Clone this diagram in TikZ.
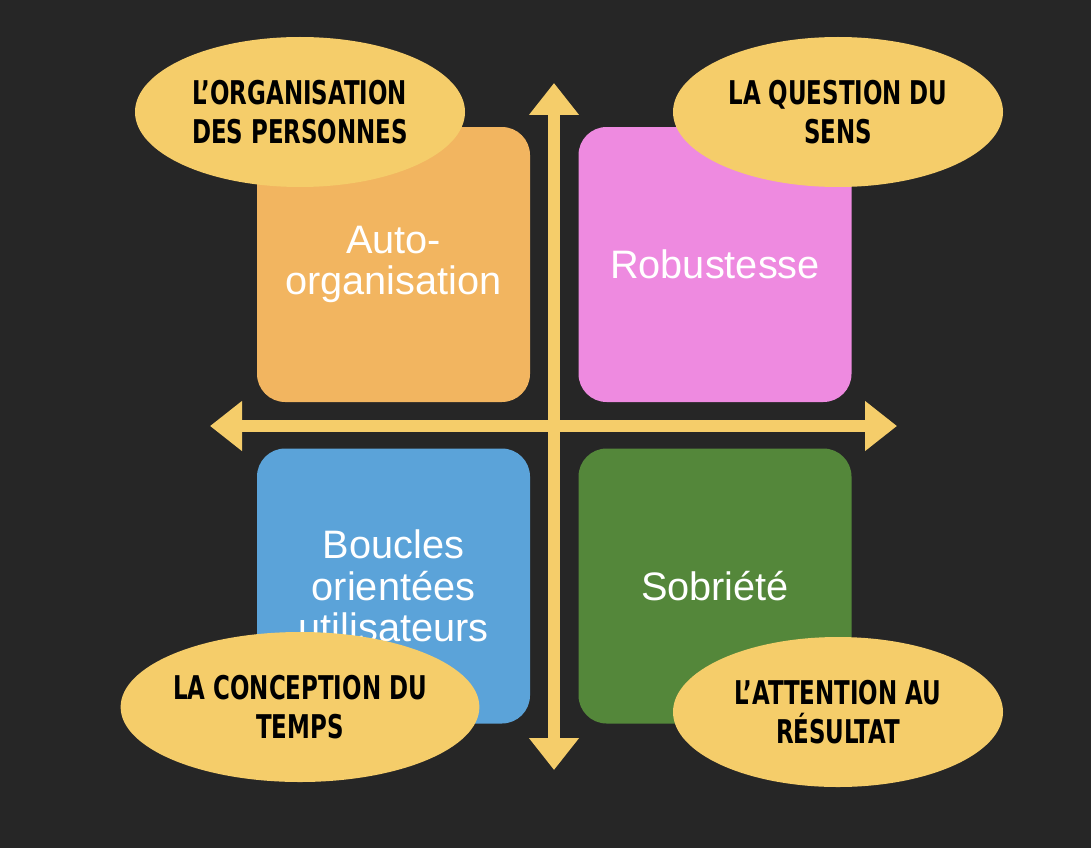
\documentclass[tikz,border=0pt]{standalone}
\usepackage{fontspec}
\setmainfont{Liberation Sans}
\newfontfamily\condfont[FakeStretch=0.78]{DejaVu Sans Condensed}
\usetikzlibrary{shapes.geometric, arrows.meta}
\definecolor{bgdark}{HTML}{262626}
\definecolor{axisyellow}{HTML}{F5CD6A}
\definecolor{boxorange}{HTML}{F2B560}
\definecolor{boxpink}{HTML}{EE8AE0}
\definecolor{boxblue}{HTML}{5BA3D9}
\definecolor{boxgreen}{HTML}{54873A}
\tikzset{
  quadbox/.style={rounded corners=8pt, minimum width=27.3mm, minimum height=27.5mm,
    text=white, align=center, font=\fontsize{11.3}{11.8}\selectfont},
  bubble/.style={ellipse, fill=axisyellow, inner sep=0pt, minimum width=33mm, minimum height=15mm,
    align=center, text=black, font=\condfont\bfseries\fontsize{9.3}{11}\selectfont},
  axis/.style={axisyellow, line width=3.4pt, {Triangle[width=4.8mm,length=3.2mm]}-{Triangle[width=4.8mm,length=3.2mm]}}
}
\begin{document}
\begin{tikzpicture}[x=0.1mm, y=-0.1mm]
    % background
    \fill[bgdark] (0,0) rectangle (1091,848);
    \useasboundingbox (0,0) rectangle (1091,848);

    % quadrants
    \node[quadbox, fill=boxorange] (auto) at (393.5,264.5) {Auto-\\organisation};
    \node[quadbox, fill=boxpink] (robust) at (715,264.5) {Robustesse};
    \node[quadbox, fill=boxblue] (boucles) at (393.5,586) {Boucles\\orientées\\utilisateurs};
    \node[quadbox, fill=boxgreen] (sobriete) at (715,586) {Sobriété};

    % axes
    \coordinate (top) at (554,83);
    \coordinate (bottom) at (554,770);
    \coordinate (left) at (210,426);
    \coordinate (right) at (897,426);
    \draw[axis] (top) -- (bottom);
    \draw[axis] (left) -- (right);

    % labels
    \node[bubble] (orga) at (300,112) {L’ORGANISATION\\DES PERSONNES};
    \node[bubble] (sens) at (838,112) {LA QUESTION DU\\SENS};
    \node[bubble] (temps) at (300,707) {LA CONCEPTION DU\\TEMPS};
    \node[bubble] (result) at (838,712) {L’ATTENTION AU\\RÉSULTAT};
\end{tikzpicture}
\end{document}
